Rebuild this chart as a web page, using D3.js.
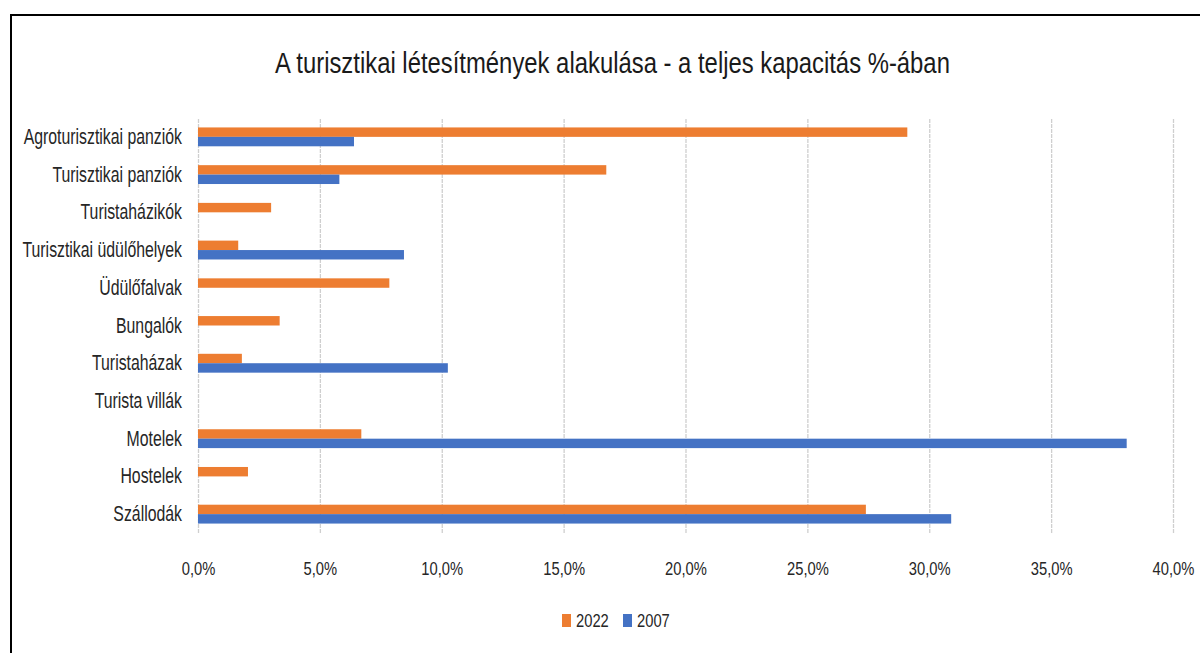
<!DOCTYPE html>
<html>
<head>
<meta charset="utf-8">
<script src="https://cdn.jsdelivr.net/npm/d3@7"></script>
<style>
  body { margin: 0; background: #fff; }
  text { font-family: "Liberation Sans", Arial, sans-serif; }
</style>
</head>
<body>
<script>
// Data (percent of total capacity)
const categories = [
    "Agroturisztikai panziók", "Turisztikai panziók", "Turistaházikók",
    "Turisztikai üdülőhelyek", "Üdülőfalvak", "Bungalók", "Turistaházak",
    "Turista villák", "Motelek", "Hostelek", "Szállodák"
];
const seriesNames = ["2022", "2007"];
const values2022 = [29.1, 16.75, 3.0, 1.65, 7.85, 3.35, 1.8, 0, 6.7, 2.05, 27.4];
const values2007 = [6.4, 5.8, 0, 8.45, 0, 0, 10.25, 0, 38.1, 0, 30.9];
const xTicks = [0, 0.05, 0.10, 0.15, 0.20, 0.25, 0.30, 0.35, 0.40];
const title = "A turisztikai létesítmények alakulása - a teljes kapacitás %-ában";

const width = 1200;
const height = 653;
const colors = { "2022": "#ED7D31", "2007": "#4472C4" };

const svg = d3.select("body").append("svg")
    .attr("width", width)
    .attr("height", height);

// Chart border (cut off at right and bottom in the reference)
svg.append("rect")
    .attr("x", 11).attr("y", 15)
    .attr("width", 1210).attr("height", 660)
    .attr("fill", "none")
    .attr("stroke", "#000")
    .attr("stroke-width", 2);

// Scales
const x = d3.scaleLinear().domain([0, 0.4]).range([198, 1173]);
const y = d3.scaleBand().domain(categories).range([118, 533])
    .paddingInner(0.5).paddingOuter(0.25);
const ySub = d3.scaleBand().domain(seriesNames).range([0, y.bandwidth()]);

const huFormat = d3.formatLocale({
    decimal: ",", thousands: " ", grouping: [3], currency: ["", " Ft"]
}).format(".1%");

// X axis with gridlines
const xAxis = svg.append("g")
    .attr("transform", "translate(0,533)")
    .call(d3.axisBottom(x).tickValues(xTicks).tickFormat(huFormat).tickSize(-415));
xAxis.select(".domain").remove();
xAxis.selectAll(".tick line")
    .attr("stroke", "#cfcfcf")
    .attr("stroke-width", 1.3)
    .attr("stroke-dasharray", "4,1");
xAxis.selectAll(".tick text")
    .attr("y", 0).attr("dy", null)
    .attr("transform", "translate(0,42) scale(0.82,1)")
    .attr("font-size", 18)
    .attr("fill", "#262626");

// Y axis labels
const yAxis = svg.append("g")
    .attr("transform", "translate(198,0)")
    .call(d3.axisLeft(y).tickSize(0));
yAxis.select(".domain").remove();
yAxis.selectAll(".tick text")
    .attr("x", 0).attr("dy", null)
    .attr("transform", "translate(-16,7) scale(0.72,1)")
    .attr("font-size", 22)
    .attr("fill", "#262626");

// Bars
const rows = categories.map((c, i) => ({
    category: c,
    series: [
        { name: "2022", value: values2022[i] / 100 },
        { name: "2007", value: values2007[i] / 100 }
    ]
}));

const groups = svg.append("g").selectAll("g")
    .data(rows)
    .join("g")
    .attr("transform", d => "translate(0," + y(d.category) + ")");

groups.selectAll("rect")
    .data(d => d.series.filter(s => s.value > 0))
    .join("rect")
    .attr("x", x(0))
    .attr("y", d => ySub(d.name))
    .attr("width", d => x(d.value) - x(0))
    .attr("height", ySub.bandwidth())
    .attr("fill", d => colors[d.name]);

// Title, squeezed horizontally to look like the narrow original font
const titleText = svg.append("text")
    .attr("text-anchor", "middle")
    .attr("font-size", 29)
    .attr("fill", "#1a1a1a")
    .text(title);
const natural = titleText.node().getComputedTextLength();
titleText.attr("transform", "translate(612.5,73) scale(" + (675 / natural) + ",1)");

// Legend
const legendX = [562, 623];
const legend = svg.append("g").selectAll("g")
    .data(seriesNames)
    .join("g")
    .attr("transform", (d, i) => "translate(" + legendX[i] + ",614)");
legend.append("rect")
    .attr("width", 9).attr("height", 13)
    .attr("fill", d => colors[d]);
legend.append("text")
    .attr("transform", "translate(14,13) scale(0.82,1)")
    .attr("font-size", 18)
    .attr("fill", "#262626")
    .text(d => d);
</script>
</body>
</html>
